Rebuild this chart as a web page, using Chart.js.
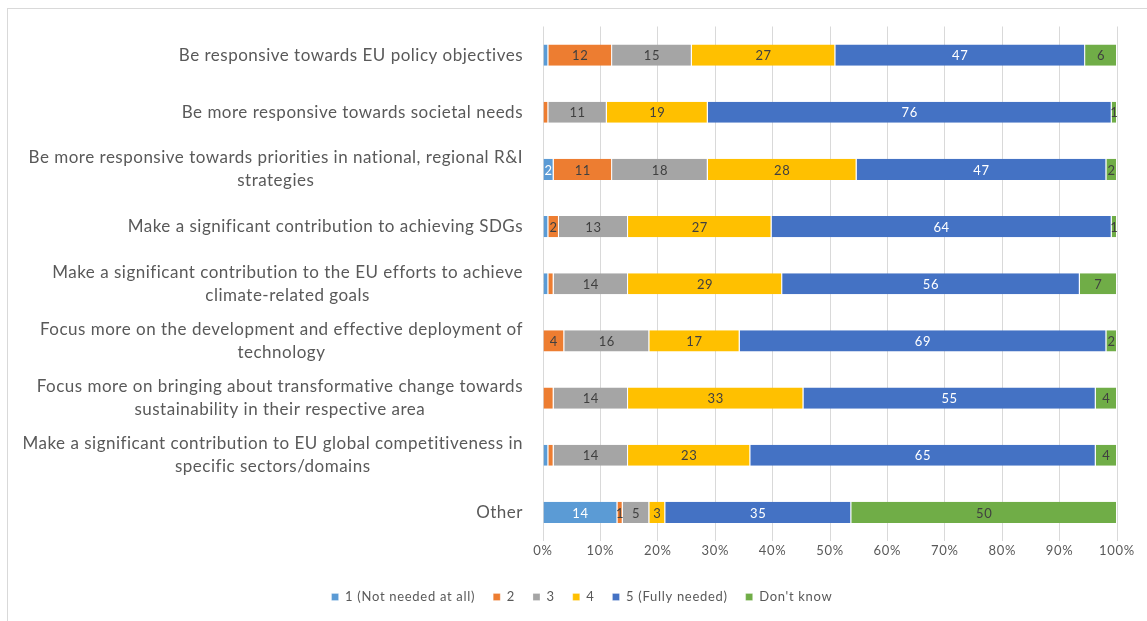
<!DOCTYPE html>
<html>
<head>
<meta charset="utf-8">
<script src="https://cdn.jsdelivr.net/npm/chart.js@4.4.1/dist/chart.umd.min.js"></script>
<style>
  html, body { margin: 0; padding: 0; background: #fff; overflow: hidden; }
  #frame { position: absolute; left: 7px; top: 8px; width: 1200px; height: 700px;
           border-left: 1px solid #d9d9d9; border-top: 1px solid #d9d9d9; }
  #wrap { position: absolute; left: 0; top: 0; width: 1147px; height: 621px; }
</style>
</head>
<body>
<div id="frame"></div>
<div id="wrap"><canvas id="chart"></canvas></div>
<script>
// ================================
// DATA (counts of respondents)
// ================================
const categories = [
  ["Be responsive towards EU policy objectives"],
  ["Be more responsive towards societal needs"],
  ["Be more responsive towards priorities in national, regional R&I", "strategies"],
  ["Make a significant contribution to achieving SDGs"],
  ["Make a significant contribution to the EU efforts to achieve", "climate-related goals"],
  ["Focus more on the development and effective deployment of", "technology"],
  ["Focus more on bringing about transformative change towards", "sustainability in their respective area"],
  ["Make a significant contribution to EU global competitiveness in", "specific sectors/domains"],
  ["Other"]
];

const seriesNames = ["1 (Not needed at all)", "2", "3", "4", "5 (Fully needed)", "Don't know"];

const notNeeded   = [1, 0, 2, 1, 1, 0, 0, 1, 14];
const score2      = [12, 1, 11, 2, 1, 4, 2, 1, 1];
const score3      = [15, 11, 18, 13, 14, 16, 14, 14, 5];
const score4      = [27, 19, 28, 27, 29, 17, 33, 23, 3];
const fullyNeeded = [47, 76, 47, 64, 56, 69, 55, 65, 35];
const dontKnow    = [6, 1, 2, 1, 7, 2, 4, 4, 50];

const xTicks = [0, 10, 20, 30, 40, 50, 60, 70, 80, 90, 100];

// labels that the original leaves out ("row:series")
const hiddenLabels = ["0:0", "3:0", "4:0", "7:0", "1:1", "4:1", "6:1", "7:1"];

const colors = ["#5B9BD5", "#ED7D31", "#A5A5A5", "#FFC000", "#4472C4", "#70AD47"];
const labelColors = ["#ffffff", "#404040", "#404040", "#404040", "#ffffff", "#404040"];

const counts = [notNeeded, score2, score3, score4, fullyNeeded, dontKnow];
const totals = categories.map((c, i) => counts.reduce((s, arr) => s + arr[i], 0));

const FONT = "Lato, 'Open Sans', sans-serif";

// ================================
// PLUGINS
// ================================
// a little letter spacing, the original font runs wider
const spacing = {
  id: "spacing",
  beforeLayout(chart) { chart.ctx.letterSpacing = "0.7px"; },
  beforeDraw(chart) { chart.ctx.letterSpacing = "0.7px"; }
};

const categoryLabels = {
  id: "categoryLabels",
  afterDraw(chart) {
    const ctx = chart.ctx;
    const y = chart.scales.y;
    const rightEdge = chart.chartArea.left - 20;
    const lh = 23;
    ctx.save();
    ctx.letterSpacing = "0.5px";
    ctx.font = "17px " + FONT;
    ctx.fillStyle = "#595959";
    ctx.textAlign = "center";
    ctx.textBaseline = "middle";
    categories.forEach((lines, i) => {
      const cy = y.getPixelForValue(i);
      const w = Math.max(...lines.map(l => ctx.measureText(l).width));
      const cx = rightEdge - w / 2;
      lines.forEach((l, j) => {
        ctx.fillText(l, cx, cy + (j - (lines.length - 1) / 2) * lh);
      });
    });
    ctx.restore();
  }
};

const valueLabels = {
  id: "valueLabels",
  afterDatasetsDraw(chart) {
    const ctx = chart.ctx;
    ctx.save();
    ctx.letterSpacing = "0.6px";
    ctx.font = "13px " + FONT;
    ctx.textAlign = "center";
    ctx.textBaseline = "middle";
    chart.data.datasets.forEach((ds, si) => {
      const meta = chart.getDatasetMeta(si);
      meta.data.forEach((bar, i) => {
        const v = counts[si][i];
        if (!v || hiddenLabels.includes(i + ":" + si)) return;
        ctx.fillStyle = labelColors[si];
        ctx.fillText(String(v), (bar.x + bar.base) / 2, bar.y + 1);
      });
    });
    ctx.restore();
  }
};

// ================================
// CHART
// ================================
const ctx = document.getElementById("chart").getContext("2d");

new Chart(ctx, {
  type: "bar",
  data: {
    labels: categories,
    datasets: seriesNames.map((name, si) => ({
      label: name,
      data: counts[si].map((v, i) => v / totals[i] * 100),
      backgroundColor: colors[si],
      borderColor: "#ffffff",
      borderWidth: { right: 1, left: 0, top: 0, bottom: 0 },
      borderSkipped: false,
      barPercentage: 0.37,
      categoryPercentage: 1
    }))
  },
  options: {
    indexAxis: "y",
    responsive: true,
    maintainAspectRatio: false,
    animation: false,
    layout: { padding: { left: 17, right: 0, top: 26.5, bottom: 7.5 } },
    plugins: {
      legend: {
        position: "bottom",
        labels: {
          boxWidth: 7,
          boxHeight: 7,
          padding: 18,
          color: "#595959",
          font: { family: FONT, size: 13 }
        }
      },
      tooltip: { enabled: false }
    },
    scales: {
      x: {
        stacked: true,
        min: 0,
        max: 100,
        afterBuildTicks: s => { s.ticks = xTicks.map(v => ({ value: v })); },
        afterFit: s => { s.height = 31.5; },
        grid: { color: "#d9d9d9", drawTicks: false },
        border: { display: false },
        ticks: {
          padding: 2,
          color: "#595959",
          font: { family: FONT, size: 13 },
          callback: v => v + "%"
        }
      },
      y: {
        stacked: true,
        afterFit: s => { s.width = 526; },
        grid: { display: false },
        border: { display: false },
        ticks: { display: false }
      },
      yR: {
        type: "category",
        position: "right",
        afterFit: s => { s.width = 30; },
        grid: { display: false },
        border: { display: false },
        ticks: { display: false }
      }
    }
  },
  plugins: [spacing, categoryLabels, valueLabels]
});
</script>
</body>
</html>
